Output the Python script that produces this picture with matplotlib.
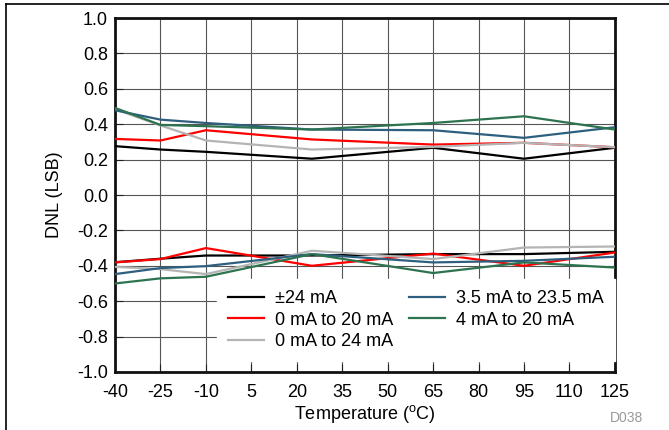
import numpy as np
import matplotlib
matplotlib.use("Agg")
import matplotlib.pyplot as plt
from matplotlib.lines import Line2D

plt.rcParams['font.family'] = ['Liberation Sans', 'DejaVu Sans']
plt.rcParams['mathtext.default'] = 'regular'
plt.rcParams['axes.unicode_minus'] = False

# temperatures where DNL was measured
temps = [-40, -25, -10, 25, 65, 95, 125]

# max / min DNL per output range
pm24_max = [0.276, 0.257, 0.244, 0.205, 0.267, 0.205, 0.267]
pm24_min = [-0.38, -0.36, -0.342, -0.342, -0.334, -0.334, -0.321]
r0_20_max = [0.317, 0.308, 0.366, 0.314, 0.285, 0.295, 0.27]
r0_20_min = [-0.381, -0.362, -0.30, -0.40, -0.331, -0.40, -0.325]
r0_24_max = [0.485, 0.393, 0.308, 0.257, 0.272, 0.295, 0.27]
r0_24_min = [-0.406, -0.419, -0.447, -0.315, -0.362, -0.297, -0.291]
r35_235_max = [0.479, 0.426, 0.407, 0.37, 0.366, 0.323, 0.383]
r35_235_min = [-0.447, -0.413, -0.402, -0.334, -0.381, -0.372, -0.349]
r4_20_max = [0.492, 0.396, 0.389, 0.37, 0.407, 0.445, 0.37]
r4_20_min = [-0.50, -0.471, -0.462, -0.334, -0.441, -0.381, -0.41]

labels = ['±24 mA', '0 mA to 20 mA', '0 mA to 24 mA', '3.5 mA to 23.5 mA', '4 mA to 20 mA']
colors = ['#000000', '#ff0000', '#b4b4b4', '#2e5f7e', '#2d7350']

xticks = [-40, -25, -10, 5, 20, 35, 50, 65, 80, 95, 110, 125]
yticks = np.round(np.arange(-1.0, 1.01, 0.2), 1)

fig = plt.figure(figsize=(6.69, 4.30), dpi=100)
ax = fig.add_axes([0.172, 0.135, 0.747, 0.823])

series = [(pm24_max, pm24_min), (r0_20_max, r0_20_min), (r0_24_max, r0_24_min),
          (r35_235_max, r35_235_min), (r4_20_max, r4_20_min)]
for (hi, lo), lab, c in zip(series, labels, colors):
    ax.plot(temps, hi, color=c, lw=1.6, label=lab, zorder=3)
    ax.plot(temps, lo, color=c, lw=1.6, zorder=3)

ax.set_xlim(-40, 125)
ax.set_ylim(-1.0, 1.0)
ax.set_xticks(xticks)
ax.set_yticks(yticks)
ax.set_yticklabels(['%.1f' % (v + 0.0) for v in yticks])
ax.tick_params(direction='in', length=6, width=0.8, labelsize=13, pad=5, color='#222222')
ax.tick_params(axis='x', pad=9)
ax.grid(True, color='#555555', lw=0.8, zorder=1)
for s in ax.spines.values():
    s.set_linewidth(2)
    s.set_color('#111111')

ax.set_xlabel('Temperature ($^{o}$C)', fontsize=13, labelpad=1)
ax.set_ylabel('DNL (LSB)', fontsize=13, labelpad=10)

leg = ax.legend(ncol=2, loc='upper left', bbox_to_anchor=(0.204, 0.262),
                fontsize=13, frameon=True, fancybox=False, framealpha=1,
                edgecolor='white', facecolor='white', borderpad=0.6,
                handlelength=2.0, handletextpad=0.6, columnspacing=0.9,
                labelspacing=0.25, borderaxespad=0)
leg.set_zorder(5)

fig.text(0.962, 0.012, 'D038', fontsize=10, color='#999999', ha='right', va='bottom')

# outer frame (top and left only)
fig.add_artist(Line2D([0.009, 1.0], [0.9907, 0.9907], color='black', lw=1.2))
fig.add_artist(Line2D([0.009, 0.009], [0.0, 0.9907], color='black', lw=1.2))

fig.savefig('out.png', dpi=100)
